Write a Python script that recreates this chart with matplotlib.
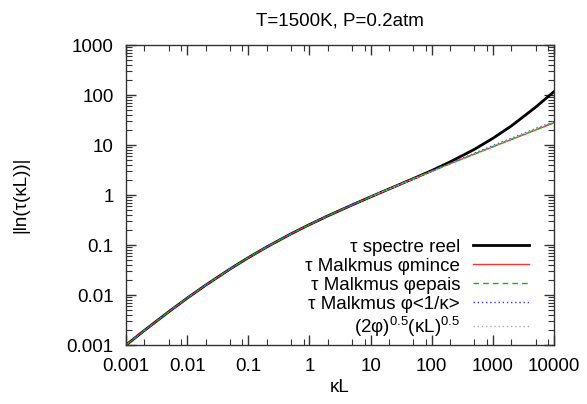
import matplotlib
matplotlib.use("Agg")
import matplotlib.pyplot as plt
from matplotlib.ticker import LogLocator, FixedFormatter, FixedLocator, NullFormatter

plt.rcParams["font.family"] = ["Liberation Sans", "DejaVu Sans"]
plt.rcParams["mathtext.default"] = "regular"

# kL values and curves
kl = [0.001, 0.002, 0.005, 0.01, 0.02, 0.05, 0.1, 0.2, 0.5, 1, 2, 5,
      10, 20, 50, 100, 200, 500, 1000, 2000, 5000, 10000]
spectre = [0.001, 0.00196, 0.00463, 0.00865, 0.0157, 0.033, 0.0558, 0.0914,
           0.1675, 0.256, 0.383, 0.634, 0.918, 1.32, 2.13, 3.08, 4.6, 8.2,
           13.6, 24.0, 57.0, 117.0]
mince = [0.001, 0.00196, 0.00463, 0.00865, 0.0157, 0.033, 0.0558, 0.0914,
         0.1675, 0.256, 0.383, 0.634, 0.918, 1.32, 2.12, 3.0, 4.22, 6.58,
         9.2, 12.85, 20.0, 27.8]
epais = [0.001, 0.00196, 0.00463, 0.00865, 0.0157, 0.033, 0.0558, 0.0914,
         0.1675, 0.256, 0.383, 0.634, 0.918, 1.32, 2.12, 3.0, 4.24, 6.62,
         9.3, 13.0, 20.3, 28.2]
moyen = [0.001, 0.00197, 0.00466, 0.0087, 0.0158, 0.0333, 0.0564, 0.0925,
         0.170, 0.260, 0.39, 0.645, 0.935, 1.345, 2.16, 3.05, 4.33, 6.85,
         9.7, 13.6, 21.3, 29.5]
kl_asym = [10, 100, 1000, 10000]
asym = [0.93, 2.93, 9.3, 29.3]

yticks = [0.001, 0.01, 0.1, 1, 10, 100, 1000]
ylabels = ["0.001", "0.01", "0.1", "1", "10", "100", "1000"]
xticks = [0.001, 0.01, 0.1, 1, 10, 100, 1000, 10000]
xlabels = ["0.001", "0.01", "0.1", "1", "10", "100", "1000", "10000"]

fig = plt.figure(figsize=(5.87, 4.04), dpi=100)
ax = fig.add_axes([0.2147, 0.146, 0.7291, 0.7426])

ax.plot(kl, spectre, color="black", lw=2, label="τ spectre reel")
ax.plot(kl, mince, color="#ff3030", lw=1, label="τ Malkmus φmince")
ax.plot(kl, epais, color="#00c000", lw=1, ls=(0, (4, 3)), label="τ Malkmus φepais")
ax.plot(kl, moyen, color="#3030ff", lw=1, ls=(0, (1, 2)), label="τ Malkmus φ<1/κ>")
ax.plot(kl_asym, asym, color="#aaaaaa", lw=1, ls=(0, (1, 2)),
        label=r"$(2φ)^{0.5}(κL)^{0.5}$")

ax.set_xscale("log")
ax.set_yscale("log")
ax.set_xlim(0.001, 10000)
ax.set_ylim(0.001, 1000)

ax.xaxis.set_major_locator(FixedLocator(xticks))
ax.xaxis.set_major_formatter(FixedFormatter(xlabels))
ax.yaxis.set_major_locator(FixedLocator(yticks))
ax.yaxis.set_major_formatter(FixedFormatter(ylabels))
ax.xaxis.set_minor_locator(LogLocator(base=10, subs=(2, 5, 8), numticks=20))
ax.yaxis.set_minor_locator(LogLocator(base=10, subs=(2, 3, 4, 5, 6, 7, 8, 9), numticks=20))
ax.xaxis.set_minor_formatter(NullFormatter())
ax.yaxis.set_minor_formatter(NullFormatter())

ax.tick_params(which="both", direction="in", top=True, right=True,
               labelsize=13.5, color="#333333")
ax.tick_params(which="major", length=7, width=1, pad=9)
ax.tick_params(which="minor", length=4, width=0.8)
for spine in ax.spines.values():
    spine.set_color("#333333")
    spine.set_linewidth(1)

ax.set_title("T=1500K, P=0.2atm", fontsize=13.5, pad=14)
ax.set_xlabel("κL", fontsize=13.5, labelpad=3)
ax.set_ylabel("|ln(τ(κL))|", fontsize=13.5, labelpad=27)

ax.legend(loc="lower right", frameon=False, markerfirst=False, fontsize=13.5,
          handlelength=3.0, labelspacing=0.1, borderaxespad=0.0,
          handletextpad=0.7, bbox_to_anchor=(0.96, -0.005))

fig.savefig("out.png", dpi=100)
